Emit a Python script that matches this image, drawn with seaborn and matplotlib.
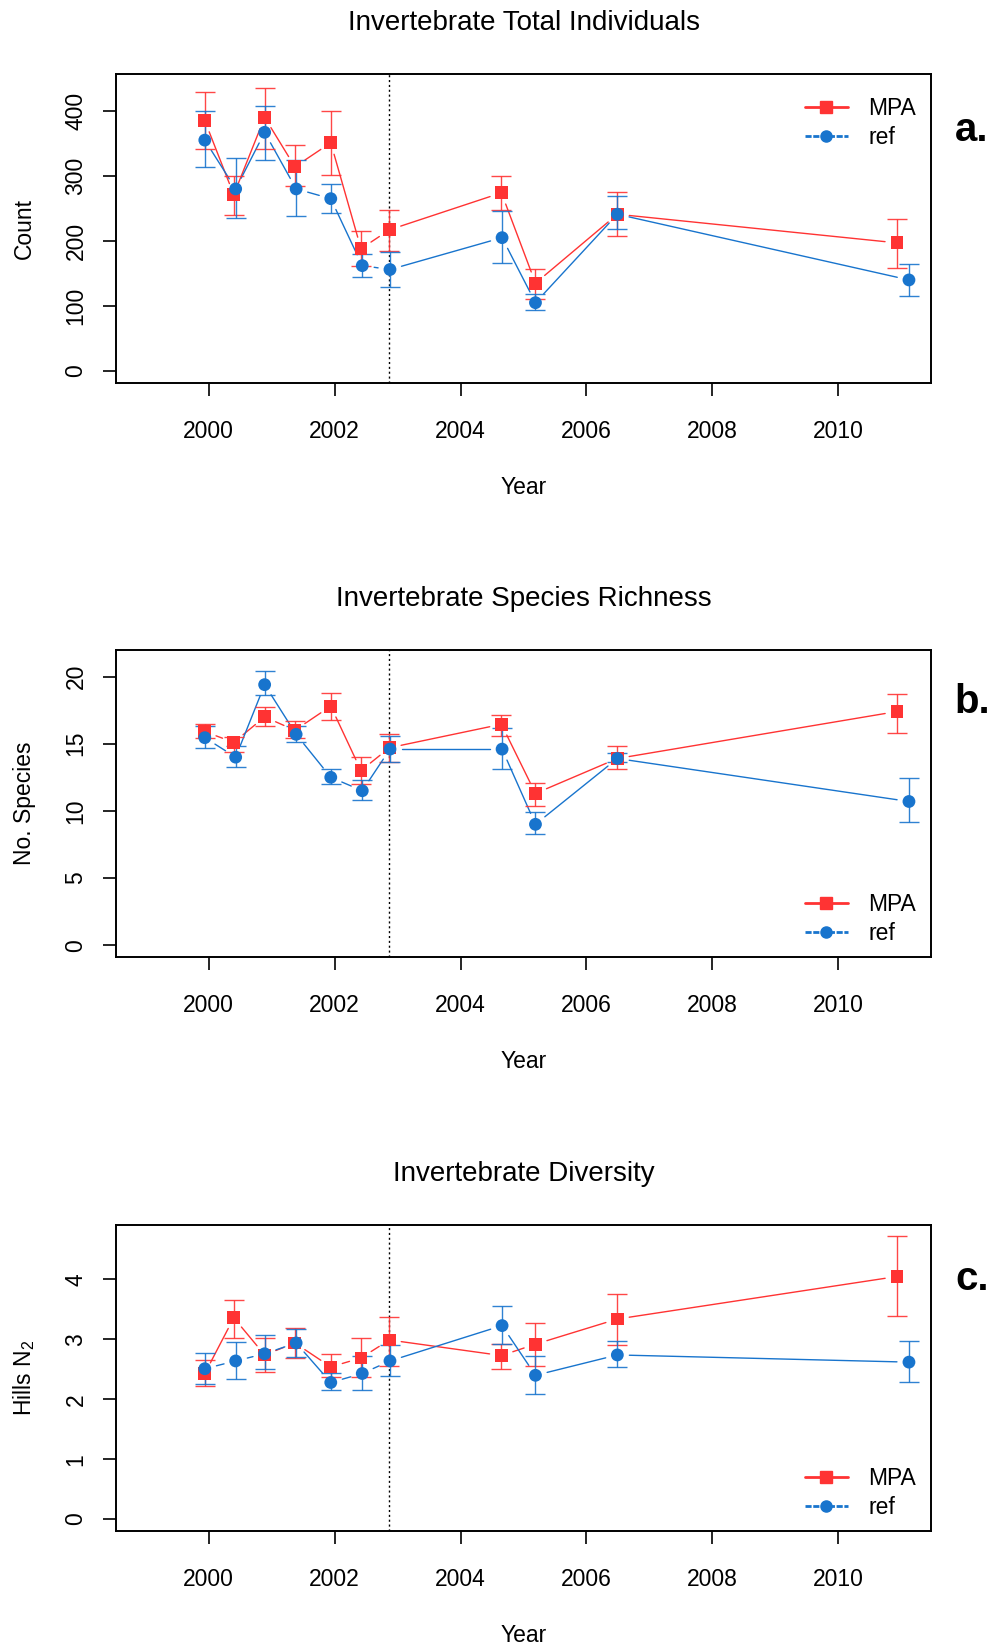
import numpy as np
import pandas as pd
import matplotlib
matplotlib.use("Agg")
import matplotlib.pyplot as plt
from matplotlib.lines import Line2D
import seaborn as sns

# sampling dates (decimal years) for each site type
years_mpa = [1999.94, 2000.40, 2000.89, 2001.37, 2001.94, 2002.42, 2002.87, 2004.65, 2005.19, 2006.49, 2010.93]
years_ref = [1999.94, 2000.43, 2000.89, 2001.39, 2001.94, 2002.44, 2002.88, 2004.66, 2005.19, 2006.49, 2011.12]

# a. total individuals
count_mpa = [385, 271, 390, 314, 351, 188, 217, 274, 135, 241, 197]
count_mpa_lo = [341, 240, 342, 284, 302, 161, 185, 247, 111, 207, 159]
count_mpa_hi = [429, 300, 435, 347, 400, 215, 247, 300, 157, 276, 233]
count_ref = [355, 280, 367, 280, 265, 162, 156, 205, 105, 241, 140]
count_ref_lo = [314, 236, 324, 238, 243, 145, 129, 166, 93, 218, 115]
count_ref_hi = [400, 328, 408, 324, 288, 180, 183, 246, 118, 269, 164]

# b. species richness
rich_mpa = [15.9, 15.1, 17.0, 16.0, 17.8, 13.0, 14.7, 16.45, 11.3, 13.9, 17.4]
rich_mpa_lo = [15.4, 14.4, 16.3, 15.4, 16.75, 12.0, 13.65, 15.6, 10.4, 13.1, 15.8]
rich_mpa_hi = [16.5, 15.5, 17.7, 16.7, 18.8, 14.0, 15.7, 17.15, 12.1, 14.85, 18.7]
rich_ref = [15.45, 14.0, 19.4, 15.7, 12.5, 11.5, 14.6, 14.6, 9.0, 13.9, 10.7]
rich_ref_lo = [14.65, 13.3, 18.6, 15.1, 12.0, 10.8, 13.65, 13.1, 8.3, 13.65, 9.2]
rich_ref_hi = [16.3, 14.85, 20.4, 16.3, 13.1, 12.3, 15.6, 16.15, 9.9, 14.3, 12.45]

# c. diversity (Hills N2)
div_mpa = [2.43, 3.36, 2.74, 2.94, 2.54, 2.69, 2.99, 2.73, 2.92, 3.34, 4.05]
div_mpa_lo = [2.22, 3.03, 2.46, 2.69, 2.37, 2.37, 2.56, 2.51, 2.56, 2.91, 3.39]
div_mpa_hi = [2.66, 3.66, 3.03, 3.19, 2.75, 3.03, 3.37, 2.93, 3.27, 3.76, 4.72]
div_ref = [2.51, 2.64, 2.76, 2.94, 2.28, 2.43, 2.64, 3.23, 2.40, 2.74, 2.62]
div_ref_lo = [2.26, 2.34, 2.51, 2.70, 2.15, 2.15, 2.39, 2.93, 2.08, 2.54, 2.29]
div_ref_hi = [2.78, 2.95, 3.07, 3.17, 2.44, 2.73, 2.90, 3.56, 2.73, 2.97, 2.97]

closure_year = 2002.87
year_ticks = [2000, 2002, 2004, 2006, 2008, 2010]

sns.set_style("ticks")
plt.rcParams["font.family"] = ["Liberation Sans", "DejaVu Sans"]
plt.rcParams["mathtext.fontset"] = "custom"
plt.rcParams["mathtext.rm"] = "Liberation Sans"
plt.rcParams["text.color"] = "black"
plt.rcParams["axes.labelcolor"] = "black"
plt.rcParams["xtick.color"] = "black"
plt.rcParams["ytick.color"] = "black"

RED = "#FF3333"
BLUE = "#1874CD"

W, H = 994, 1648
fig = plt.figure(figsize=(W / 100, H / 100), dpi=100)


def gapped_line(ax, x, y, color, gap=12):
    # R type="b": segments stop short of each point
    pts = ax.transData.transform(np.column_stack([x, y]))
    inv = ax.transData.inverted()
    for p0, p1 in zip(pts[:-1], pts[1:]):
        d = p1 - p0
        L = np.hypot(*d)
        if L <= 2 * gap:
            continue
        u = d / L
        a = inv.transform(p0 + u * gap)
        b = inv.transform(p1 - u * gap)
        ax.plot([a[0], b[0]], [a[1], b[1]], color=color, lw=1.0, zorder=2)


def panel(top_px, bottom_px, title, ylabel, letter, letter_base, mpa, ref,
          ylim, yticks, leg_top):
    left, right = 116, 931
    ax = fig.add_axes([left / W, 1 - bottom_px / H, (right - left) / W, (bottom_px - top_px) / H])
    ax.set_xlim(1998.53, 2011.47)
    ax.set_ylim(*ylim)
    ax.set_autoscale_on(False)

    df = pd.concat([
        pd.DataFrame({"year": years_mpa, "val": mpa[0], "lo": mpa[1], "hi": mpa[2], "site": "MPA"}),
        pd.DataFrame({"year": years_ref, "val": ref[0], "lo": ref[1], "hi": ref[2], "site": "ref"}),
    ])
    colors = {"MPA": RED, "ref": BLUE}

    for site, g in df.groupby("site"):
        gapped_line(ax, g["year"].values, g["val"].values, colors[site])
        ax.errorbar(g["year"], g["val"], yerr=[g["val"] - g["lo"], g["hi"] - g["val"]],
                    fmt="none", ecolor=colors[site], elinewidth=1.0, capsize=7.2,
                    capthick=1.0, alpha=0.9, zorder=3)

    ax.axvline(closure_year, color="black", ls=(0, (1.5, 2)), lw=1.0, zorder=2.5)

    sns.scatterplot(data=df, x="year", y="val", hue="site", style="site",
                    markers={"MPA": "s", "ref": "o"}, palette=colors,
                    s=85, linewidth=0, legend=False, ax=ax, zorder=4)

    ax.set_xticks(year_ticks)
    ax.set_yticks(yticks)
    ax.tick_params(axis="x", labelsize=16.5, length=9.5, width=1.2, pad=17)
    ax.tick_params(axis="y", labelsize=16.5, length=9.5, width=1.2, pad=11, labelrotation=90)
    for lab in ax.get_yticklabels():
        lab.set_verticalalignment("center")
    for sp in ax.spines.values():
        sp.set_linewidth(1.4)
        sp.set_color("black")

    ax.set_xlabel("Year", fontsize=16.5)
    ax.xaxis.set_label_coords(0.5, -104.0 / (bottom_px - top_px))
    ax.xaxis.label.set_verticalalignment("center")
    ax.set_ylabel(ylabel, fontsize=16.5)
    ax.yaxis.set_label_coords(-(116 - 24) / (right - left), 0.5)
    ax.yaxis.label.set_verticalalignment("center")

    fig.text((left + right) / 2 / W, 1 - (top_px - 51) / H, title,
             fontsize=20, ha="center", va="center")
    fig.text(972 / W, 1 - letter_base / H, letter, fontsize=29,
             fontweight="bold", ha="center", va="baseline")

    handles = [
        Line2D([], [], color=RED, marker="s", markersize=8, lw=2.0),
        Line2D([], [], color=BLUE, marker="o", markersize=8, lw=2.0, ls=(0, (2.2, 0.6))),
    ]
    ax.legend(handles, ["MPA", "ref"], loc="upper left",
              bbox_to_anchor=((805 - left) / (right - left), leg_top),
              frameon=False, fontsize=16.5, handlelength=1.86, handletextpad=0.9,
              labelspacing=0.26, borderpad=0, borderaxespad=0)
    return ax


panel(74, 383, "Invertebrate Total Individuals", "Count", "a.", 141,
      (count_mpa, count_mpa_lo, count_mpa_hi), (count_ref, count_ref_lo, count_ref_hi),
      (-18.5, 456.7), [0, 100, 200, 300, 400], 0.926)

panel(650, 957, "Invertebrate Species Richness", "No. Species", "b.", 713,
      (rich_mpa, rich_mpa_lo, rich_mpa_hi), (rich_ref, rich_ref_lo, rich_ref_hi),
      (-0.88, 21.98), [0, 5, 10, 15, 20], 0.2095)

panel(1225, 1531, "Invertebrate Diversity", r"Hills N$_\mathregular{2}$", "c.", 1290,
      (div_mpa, div_mpa_lo, div_mpa_hi), (div_ref, div_ref_lo, div_ref_hi),
      (-0.2, 4.91), [0, 1, 2, 3, 4], 0.2085)

fig.savefig("out.png", dpi=100)
